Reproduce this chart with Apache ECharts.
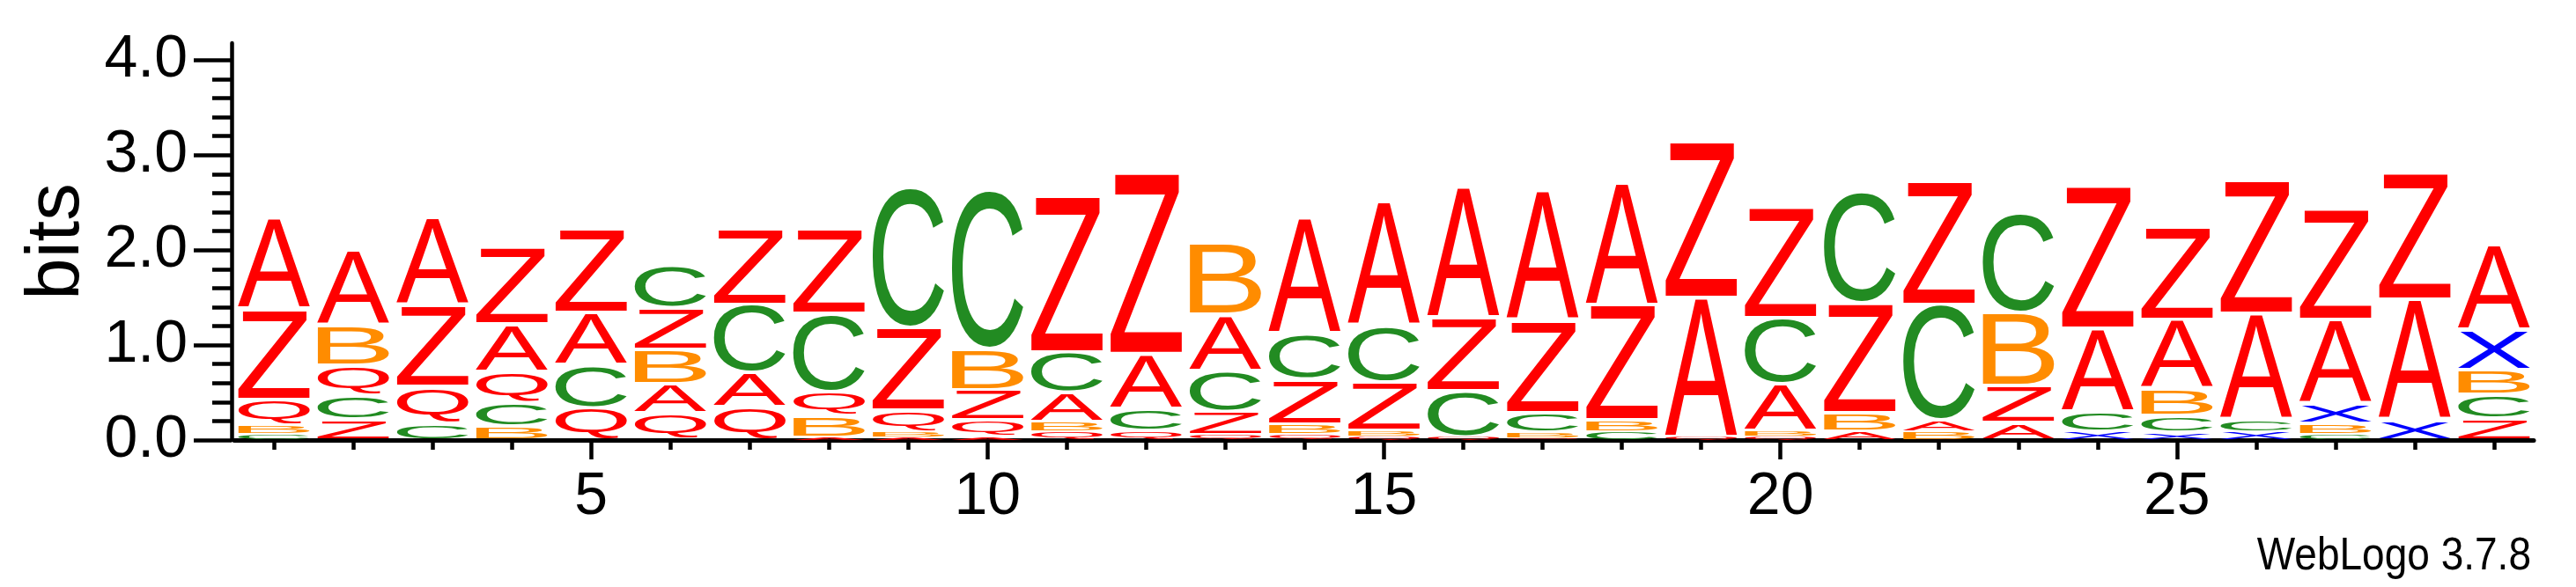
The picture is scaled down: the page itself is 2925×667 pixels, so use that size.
<!DOCTYPE html>
<html>
<head>
<meta charset="utf-8">
<title>WebLogo 3.7.8</title>
<script src="https://cdn.jsdelivr.net/npm/echarts@6/dist/echarts.min.js"></script>
<style>
    html, body { margin: 0; padding: 0; background: #fff; }
    #logo { width: 2925px; height: 667px; }
</style>
</head>
<body>
<div id="logo"></div>
<script>
// positions along the sequence
const positions = [1, 2, 3, 4, 5, 6, 7, 8, 9, 10, 11, 12, 13, 14, 15, 16, 17, 18, 19, 20, 21, 22, 23, 24, 25, 26, 27, 28, 29];
const letters = ["A", "B", "C", "Q", "X", "Z"];

// bits of each letter at each position
const bitsA = [0.96, 0.79, 0.93, 0.50, 0.55, 0.31, 0.36, 0.03, 0.03, 0.03, 0.31, 0.58, 0.59, 1.23, 1.31, 1.38, 1.37, 1.30, 1.47, 0.49, 0.09, 0.12, 0.18, 0.88, 0.73, 1.12, 0.89, 1.27, 0.90];
const bitsB = [0.09, 0.42, 0, 0.14, 0, 0.36, 0, 0.23, 0.06, 0.43, 0.10, 0, 0.75, 0.11, 0.06, 0, 0.06, 0.12, 0, 0.06, 0.20, 0.09, 0.77, 0, 0.28, 0, 0.11, 0, 0.26];
const bitsC = [0.06, 0.25, 0.18, 0.25, 0.45, 0.45, 0.72, 0.82, 1.48, 1.68, 0.43, 0.23, 0.43, 0.48, 0.59, 0.49, 0.21, 0.09, 0, 0.70, 1.17, 1.22, 1.05, 0.21, 0.18, 0.12, 0.06, 0, 0.25];
const bitsQ = [0.28, 0.32, 0.38, 0.33, 0.34, 0.28, 0.35, 0.25, 0.22, 0.18, 0.09, 0.10, 0.05, 0.06, 0.04, 0.03, 0.02, 0, 0.03, 0.04, 0, 0, 0, 0, 0, 0, 0, 0, 0];
const bitsX = [0, 0, 0, 0, 0, 0, 0, 0, 0, 0, 0, 0, 0, 0, 0, 0, 0, 0, 0, 0, 0, 0, 0, 0.09, 0.08, 0.09, 0.21, 0.21, 0.42];
const bitsZ = [0.95, 0.22, 0.86, 0.81, 0.88, 0.44, 0.80, 0.90, 0.87, 0.32, 1.64, 1.91, 0.25, 0.47, 0.51, 0.77, 0.97, 1.21, 1.64, 1.17, 1.16, 1.30, 0.39, 1.50, 0.98, 1.41, 1.17, 1.34, 0.23];

const letterColors = ["#ff0000", "#ff8c00", "#228b22", "#ff0000", "#0000ff", "#ff0000"];

// tick labels
const yMajorTicks = [0, 1, 2, 3, 4];
const yMinorTicks = [0.2, 0.4, 0.6, 0.8, 1.2, 1.4, 1.6, 1.8, 2.2, 2.4, 2.6, 2.8, 3.2, 3.4, 3.6, 3.8];
const xTickLabels = [5, 10, 15, 20, 25];
const yTop = 4.18;
const footnote = "WebLogo 3.7.8";

const FONT_FAMILY = '"Liberation Sans", Arial, sans-serif';
const GLYPH_PX = 200;
const GLYPH_FONT = GLYPH_PX + "px " + FONT_FAMILY;

// measure the ink box of each letter, relative to a left/middle text anchor
const measureInk = ch => {
    const size = 420;
    const ox = 100;
    const oy = 210;
    const canvas = document.createElement("canvas");
    canvas.width = size;
    canvas.height = size;
    const ctx = canvas.getContext("2d");
    ctx.font = GLYPH_FONT;
    ctx.textAlign = "left";
    ctx.textBaseline = "middle";
    ctx.fillStyle = "#000";
    ctx.fillText(ch, ox, oy);
    const px = ctx.getImageData(0, 0, size, size).data;
    let x0 = size, x1 = -1, y0 = size, y1 = -1;
    for (let y = 0; y < size; y++) {
        for (let x = 0; x < size; x++) {
            if (px[(y * size + x) * 4 + 3] > 100) {
                if (x < x0) x0 = x;
                if (x > x1) x1 = x;
                if (y < y0) y0 = y;
                if (y > y1) y1 = y;
            }
        }
    }
    return { left: x0 - ox, right: x1 + 1 - ox, top: y0 - oy, bottom: y1 + 1 - oy };
};
const inkBoxes = letters.map(measureInk);

// stack letters per position, smallest at the bottom
const bitsByLetter = [bitsA, bitsB, bitsC, bitsQ, bitsX, bitsZ];
const stackData = [];
positions.forEach((p, i) => {
    const column = letters
        .map((l, k) => ({ k, h: bitsByLetter[k][i] }))
        .filter(d => d.h > 0)
        .sort((a, b) => a.h - b.h);
    let base = 0;
    column.forEach(d => {
        stackData.push([i, base, base + d.h, d.k]);
        base += d.h;
    });
});

const renderLetter = (params, api) => {
    const idx = api.value(0);
    const k = api.value(3);
    const bottom = api.coord([idx, api.value(1)]);
    const top = api.coord([idx, api.value(2)]);
    const width = api.size([1, 0])[0] * 0.9;
    const hPx = bottom[1] - top[1];
    const margin = Math.min(2.2, hPx * 0.12);
    const boxTop = top[1] + margin;
    const boxH = Math.max(hPx - 2 * margin, 0.5);
    const ink = inkBoxes[k];
    const sx = width / (ink.right - ink.left);
    const sy = boxH / (ink.bottom - ink.top);
    return {
        type: "text",
        x: top[0] - width / 2 - ink.left * sx,
        y: boxTop - ink.top * sy,
        scaleX: sx,
        scaleY: sy,
        style: {
            text: letters[k],
            font: GLYPH_FONT,
            fill: letterColors[k],
            align: "left",
            verticalAlign: "middle",
            textAlign: "left",
            textVerticalAlign: "middle"
        }
    };
};

const axisColor = "#000";

const option = {
    animation: false,
    backgroundColor: "#fff",
    grid: {
        left: 266,
        right: 48,
        top: 49,
        bottom: 167,
        containLabel: false,
        outerBoundsMode: "none"
    },
    xAxis: [
        {
            type: "category",
            data: positions,
            position: "bottom",
            boundaryGap: true,
            axisLine: { show: true, lineStyle: { color: axisColor, width: 5 } },
            axisTick: {
                show: true,
                alignWithLabel: true,
                interval: 0,
                length: 11,
                lineStyle: { color: axisColor, width: 4.5 }
            },
            axisLabel: { show: false },
            splitLine: { show: false }
        },
        {
            type: "category",
            data: positions,
            position: "bottom",
            boundaryGap: true,
            axisLine: { show: false },
            axisTick: {
                show: true,
                alignWithLabel: true,
                interval: (index, value) => xTickLabels.includes(Number(value)),
                length: 22,
                lineStyle: { color: axisColor, width: 4.5 }
            },
            axisLabel: {
                show: true,
                interval: (index, value) => xTickLabels.includes(Number(value)),
                fontSize: 68,
                fontFamily: FONT_FAMILY,
                color: axisColor,
                margin: 31
            },
            splitLine: { show: false }
        }
    ],
    yAxis: [
        {
            type: "value",
            min: 0,
            max: yTop,
            position: "left",
            offset: 3,
            name: "bits",
            nameLocation: "middle",
            nameRotate: 90,
            nameGap: 151,
            nameTextStyle: { fontSize: 85, fontFamily: FONT_FAMILY, color: axisColor },
            axisLine: { show: true, lineStyle: { color: axisColor, width: 4.5 } },
            axisTick: {
                show: true,
                customValues: yMajorTicks,
                length: 43,
                lineStyle: { color: axisColor, width: 4.5 }
            },
            axisLabel: {
                show: true,
                customValues: yMajorTicks,
                formatter: v => Number(v).toFixed(1),
                fontSize: 68,
                fontFamily: FONT_FAMILY,
                color: axisColor,
                margin: 50
            },
            splitLine: { show: false }
        },
        {
            type: "value",
            min: 0,
            max: yTop,
            position: "left",
            offset: 3,
            axisLine: { show: false },
            axisTick: {
                show: true,
                customValues: yMinorTicks,
                length: 22,
                lineStyle: { color: axisColor, width: 4.5 }
            },
            axisLabel: { show: false },
            splitLine: { show: false }
        }
    ],
    graphic: [
        {
            type: "text",
            x: 2874,
            y: 659,
            scaleX: 0.885,
            style: {
                text: footnote,
                font: "52px " + FONT_FAMILY,
                fill: "#000",
                align: "right",
                verticalAlign: "bottom",
                textAlign: "right",
                textVerticalAlign: "bottom"
            }
        }
    ],
    series: [
        {
            name: "logo",
            type: "custom",
            xAxisIndex: 0,
            yAxisIndex: 0,
            silent: true,
            renderItem: renderLetter,
            encode: { x: 0, y: [1, 2] },
            data: stackData
        }
    ]
};

const logoChart = echarts.init(document.getElementById("logo"), null, { renderer: "canvas" });
logoChart.setOption(option);
</script>
</body>
</html>
